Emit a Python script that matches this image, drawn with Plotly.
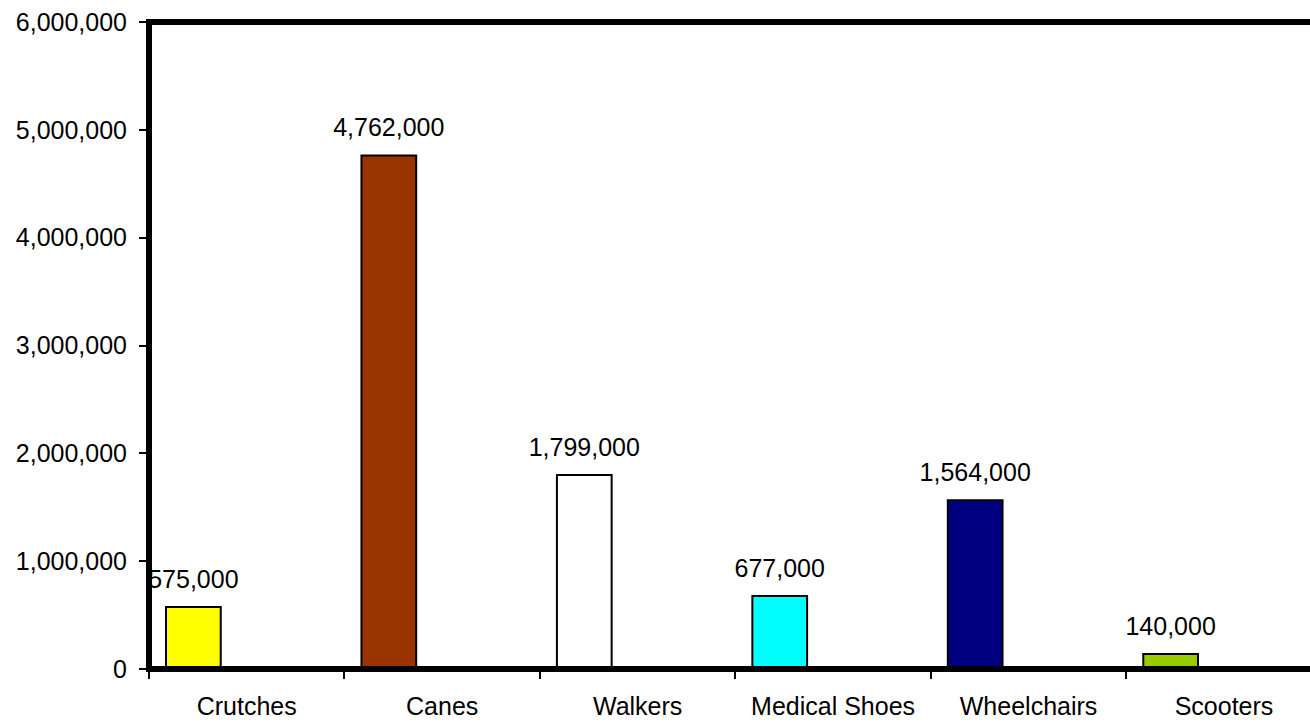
import plotly.graph_objects as go

# Mobility device users
categories = ["Crutches", "Canes", "Walkers", "Medical Shoes", "Wheelchairs", "Scooters"]
users = [575000, 4762000, 1799000, 677000, 1564000, 140000]
bar_colors = ["#FFFF00", "#993300", "#FFFFFF", "#00FFFF", "#000080", "#99CC00"]
y_ticks = [0, 1000000, 2000000, 3000000, 4000000, 5000000, 6000000]

FONT = "Liberation Sans, Arial, sans-serif"
BAR_W = 0.28
BAR_OFFSET = -0.413  # bar's left edge relative to category centre

positions = list(range(len(categories)))
label_x = [p + BAR_OFFSET + BAR_W / 2 for p in positions]

fig = go.Figure()
fig.add_trace(go.Bar(
    x=positions,
    y=users,
    width=BAR_W,
    offset=BAR_OFFSET,
    marker=dict(color=bar_colors, line=dict(color="black", width=2)),
    hoverinfo="skip",
    showlegend=False,
))
# value labels above each bar
fig.add_trace(go.Scatter(
    x=label_x,
    y=users,
    mode="markers+text",
    text=[f"{v:,}" for v in users],
    textposition="top center",
    textfont=dict(family=FONT, size=25, color="black"),
    marker=dict(size=19, opacity=0),
    cliponaxis=True,
    hoverinfo="skip",
    showlegend=False,
))

# heavy frame on the left, top and bottom edges of the plot area
fig.add_shape(
    type="path",
    xref="paper", yref="paper",
    path="M 1.2,1 L 0,1 L 0,0 L 1.2,0",
    line=dict(color="black", width=6),
    layer="above",
)

fig.update_layout(
    width=1310,
    height=722,
    margin=dict(l=149, r=0, t=22, b=53),
    paper_bgcolor="white",
    plot_bgcolor="white",
    font=dict(family=FONT, size=25, color="black"),
)
fig.update_xaxes(
    range=[-0.5, 5.44],
    tickvals=positions,
    ticktext=categories,
    ticks="",
    showgrid=False,
    zeroline=False,
    showline=False,
    ticklabelstandoff=20,
    tickfont=dict(family=FONT, size=25, color="black"),
    minor=dict(tick0=-0.5, dtick=1, ticks="outside", ticklen=9, tickwidth=2, tickcolor="black"),
)
fig.update_yaxes(
    range=[0, 6000000],
    tickvals=y_ticks,
    tickformat=",",
    ticks="outside",
    ticklen=9,
    tickwidth=2,
    tickcolor="black",
    showgrid=False,
    zeroline=False,
    showline=False,
    ticklabelstandoff=7,
    tickfont=dict(family=FONT, size=25, color="black"),
)

fig.write_html("out.html")
